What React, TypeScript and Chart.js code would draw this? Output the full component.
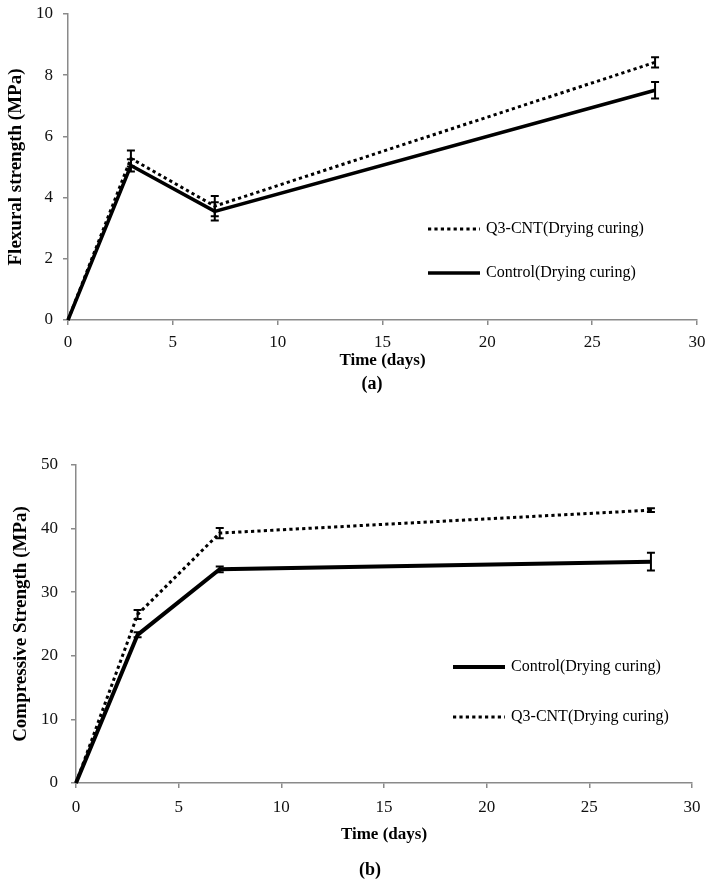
import React, { useEffect, useRef } from "react";
import { Chart, registerables } from "chart.js";

Chart.register(...registerables);

// ---- data ----
const days = [0, 3, 7, 28];
const xTickStep = 5;

const flexQ3 = [0, 5.28, 3.72, 8.42];
const flexQ3Err = [0, 0.26, 0.33, 0.17];
const flexControl = [0, 5.05, 3.55, 7.51];
const flexControlErr = [0, 0.2, 0.3, 0.27];

const compControl = [0, 23.3, 33.6, 34.8];
const compControlErr = [0, 0.4, 0.45, 1.4];
const compQ3 = [0, 26.5, 39.3, 42.9];
const compQ3Err = [0, 0.7, 0.8, 0.3];

const labelQ3 = "Q3-CNT(Drying curing)";
const labelControl = "Control(Drying curing)";

const FONT = "'Liberation Serif', 'Times New Roman', serif";
const AXIS_GRAY = "#8a8a8a";

const toPts = (ys: number[]) => days.map((d, i) => ({ x: d, y: ys[i] }));

const errorBarPlugin = {
  id: "errorBars",
  afterDatasetsDraw(chart: any) {
    const ctx = chart.ctx;
    const yScale = chart.scales.y;
    chart.data.datasets.forEach((ds: any, di: number) => {
      const meta = chart.getDatasetMeta(di);
      const errs: number[] = ds.errors || [];
      meta.data.forEach((pt: any, i: number) => {
        const e = errs[i];
        if (!e) return;
        const v = ds.data[i].y;
        const x = pt.x;
        const yTop = yScale.getPixelForValue(v + e);
        const yBot = yScale.getPixelForValue(v - e);
        ctx.save();
        ctx.strokeStyle = "#000";
        ctx.lineWidth = 2;
        ctx.beginPath();
        ctx.moveTo(x, yTop);
        ctx.lineTo(x, yBot);
        ctx.moveTo(x - 4, yTop);
        ctx.lineTo(x + 4, yTop);
        ctx.moveTo(x - 4, yBot);
        ctx.lineTo(x + 4, yBot);
        ctx.stroke();
        ctx.restore();
      });
    });
  },
};

const innerLegendPlugin = {
  id: "innerLegend",
  afterDraw(chart: any) {
    const opts = chart.options.plugins.innerLegend;
    if (!opts) return;
    const ctx = chart.ctx;
    opts.entries.forEach((en: any) => {
      const ds = chart.data.datasets[en.datasetIndex];
      ctx.save();
      ctx.strokeStyle = "#000";
      ctx.lineWidth = ds.borderWidth;
      ctx.setLineDash(ds.borderDash || []);
      ctx.beginPath();
      ctx.moveTo(en.x, en.y);
      ctx.lineTo(en.x + opts.lineLength, en.y);
      ctx.stroke();
      ctx.setLineDash([]);
      ctx.fillStyle = "#000";
      ctx.font = `${opts.fontSize}px ${FONT}`;
      ctx.textBaseline = "middle";
      ctx.textAlign = "left";
      ctx.fillText(ds.label, en.x + opts.lineLength + 6, en.y);
      ctx.restore();
    });
  },
};

function makeOptions(p: any) {
  return {
    animation: false,
    responsive: false,
    maintainAspectRatio: false,
    layout: { padding: p.padding },
    plugins: {
      legend: { display: false },
      tooltip: { enabled: false },
      innerLegend: p.legend,
    },
    scales: {
      x: {
        type: "linear",
        min: 0,
        max: 30,
        afterFit: (s: any) => {
          s.height = p.xHeight;
          s.paddingLeft = 0;
          s.paddingRight = 0;
        },
        ticks: {
          stepSize: xTickStep,
          font: { family: FONT, size: 17 },
          color: "#111",
          padding: p.xTickPad,
          maxRotation: 0,
        },
        grid: {
          drawOnChartArea: false,
          drawTicks: true,
          tickLength: 5,
          color: AXIS_GRAY,
          lineWidth: 1.5,
        },
        border: { display: true, color: AXIS_GRAY, width: 1.5 },
        title: {
          display: true,
          text: "Time (days)",
          font: { family: FONT, size: 17, weight: "bold" },
          color: "#000",
          padding: { top: 0, bottom: 0 },
        },
      },
      y: {
        type: "linear",
        min: 0,
        max: p.yMax,
        afterFit: (s: any) => {
          s.width = p.yWidth;
          s.paddingTop = 0;
          s.paddingBottom = 0;
        },
        ticks: {
          stepSize: p.yStep,
          font: { family: FONT, size: 17 },
          color: "#111",
          padding: p.yTickPad,
        },
        grid: {
          drawOnChartArea: false,
          drawTicks: true,
          tickLength: 5,
          color: AXIS_GRAY,
          lineWidth: 1.5,
        },
        border: { display: true, color: AXIS_GRAY, width: 1.5 },
        title: {
          display: true,
          text: p.yTitle,
          font: { family: FONT, size: 19, weight: "bold" },
          color: "#000",
          padding: { top: p.yTitlePad, bottom: 0 },
        },
      },
    },
  };
}

function solidDs(label: string, ys: number[], errs: number[], width: number) {
  return {
    label,
    data: toPts(ys),
    errors: errs,
    borderColor: "#000",
    backgroundColor: "#000",
    borderWidth: width,
    pointRadius: 0,
    tension: 0,
    clip: false,
    borderJoinStyle: "miter",
  };
}

function dottedDs(label: string, ys: number[], errs: number[], width: number) {
  return {
    label,
    data: toPts(ys),
    errors: errs,
    borderColor: "#000",
    backgroundColor: "#000",
    borderWidth: width,
    borderDash: [3.2, 3.2],
    pointRadius: 0,
    tension: 0,
    clip: false,
  };
}

function ChartCanvas(props: { config: any; width: number; height: number; top: number }) {
  const ref = useRef<HTMLCanvasElement | null>(null);
  useEffect(() => {
    if (!ref.current) return;
    const chart = new Chart(ref.current, props.config);
    return () => chart.destroy();
  }, []);
  return (
    <canvas
      ref={ref}
      width={props.width}
      height={props.height}
      style={{ position: "absolute", left: 0, top: props.top, width: props.width, height: props.height }}
    />
  );
}

export default function App() {
  const configA = {
    type: "line",
    data: {
      datasets: [
        dottedDs(labelQ3, flexQ3, flexQ3Err, 3),
        solidDs(labelControl, flexControl, flexControlErr, 3.5),
      ],
    },
    options: makeOptions({
      padding: { left: 0, right: 14, top: 14, bottom: 59 },
      xHeight: 51,
      yWidth: 68,
      xTickPad: 7,
      yTickPad: 10,
      yMax: 10,
      yStep: 2,
      yTitle: "Flexural strength (MPa)",
      yTitlePad: 5,
      legend: {
        lineLength: 52,
        fontSize: 16,
        entries: [
          { datasetIndex: 0, x: 428, y: 229 },
          { datasetIndex: 1, x: 428, y: 273 },
        ],
      },
    }),
    plugins: [errorBarPlugin, innerLegendPlugin],
  };

  const configB = {
    type: "line",
    data: {
      datasets: [
        solidDs(labelControl, compControl, compControlErr, 4),
        dottedDs(labelQ3, compQ3, compQ3Err, 3),
      ],
    },
    options: makeOptions({
      padding: { left: 0, right: 19, top: 35, bottom: 47 },
      xHeight: 62,
      yWidth: 76,
      xTickPad: 9,
      yTickPad: 13,
      yMax: 50,
      yStep: 10,
      yTitle: "Compressive Strength (MPa)",
      yTitlePad: 10,
      legend: {
        lineLength: 52,
        fontSize: 16,
        entries: [
          { datasetIndex: 0, x: 453, y: 667 - 430 },
          { datasetIndex: 1, x: 453, y: 717 - 430 },
        ],
      },
    }),
    plugins: [errorBarPlugin, innerLegendPlugin],
  };

  const capStyle: React.CSSProperties = {
    position: "absolute",
    width: 60,
    textAlign: "center",
    fontFamily: FONT,
    fontWeight: "bold",
    fontSize: 18,
    lineHeight: "20px",
    color: "#000",
  };

  return (
    <div style={{ position: "absolute", left: 0, top: 0, width: 711, height: 892, background: "#fff" }}>
      <ChartCanvas config={configA} width={711} height={430} top={0} />
      <ChartCanvas config={configB} width={711} height={462} top={430} />
      <div style={{ ...capStyle, left: 372 - 30, top: 383 - 10 }}>(a)</div>
      <div style={{ ...capStyle, left: 370 - 30, top: 869 - 10 }}>(b)</div>
    </div>
  );
}
